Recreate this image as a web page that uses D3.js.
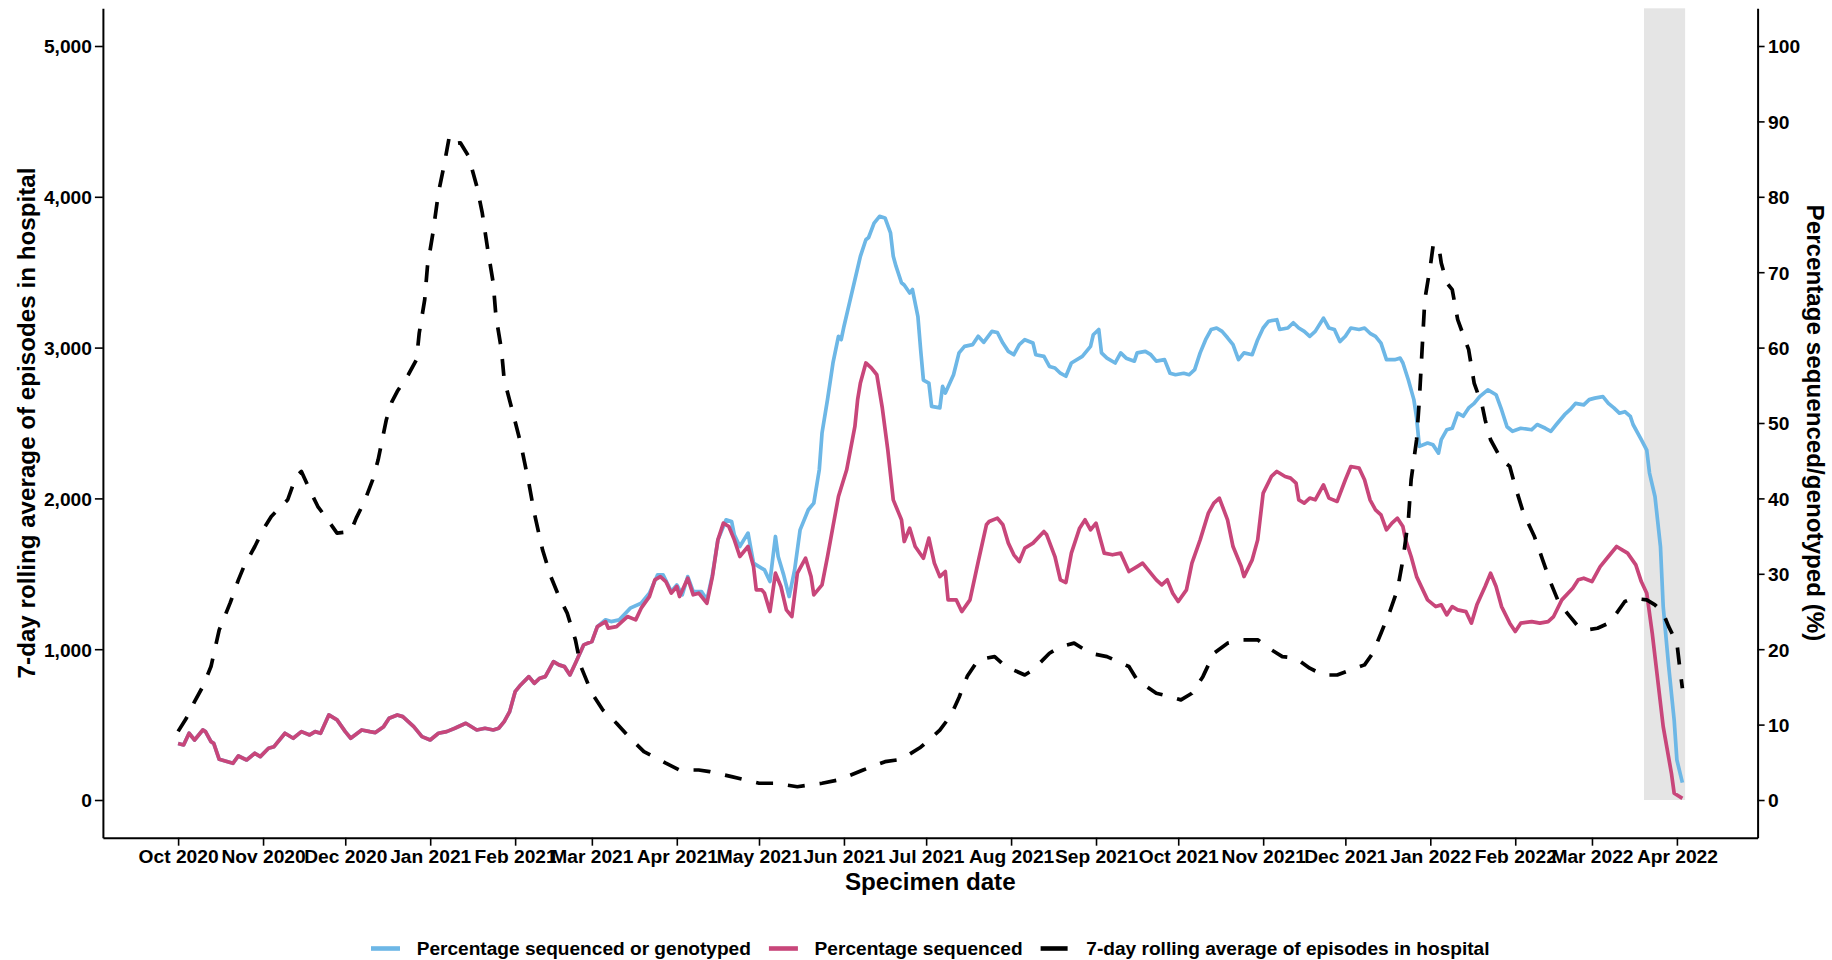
<!DOCTYPE html>
<html>
<head>
<meta charset="utf-8">
<script src="https://cdn.jsdelivr.net/npm/d3@7"></script>
<style>
  body { margin: 0; background: #ffffff; }
  svg { display: block; font-family: "Liberation Sans", Arial, sans-serif; font-weight: bold; }
</style>
</head>
<body>
<svg id="chart" width="1832" height="960"></svg>
<script>
// ---------------- DATA ----------------
const startDate = "2020-10-01";           // day 0 of every "days" array
const endDate = "2022-04-03";             // last specimen date shown

// 7-day rolling average of episodes in hospital (left axis)
const hospitalDays = [0,3,6,9,12,15,19,22,24,28,31,34,40,43,45,48,51,55,58,63,65,68,71,73,76,78,80,84,87,88,90,91,93,95,97,99,101,103,106,109,111,113,115,116,118,119,122,125,128,130,133,136,139,142,145,147,151,155,160,165,170,178,183,190,194,202,212,218,226,235,241,250,258,264,271,274,278,282,285,288,292,298,302,309,312,318,322,327,333,339,347,350,357,362,366,370,374,378,383,388,394,398,403,408,413,418,423,428,433,436,439,442,445,447,449,450,452,453,454,455,457,458,460,461,463,465,467,471,473,476,477,479,483,486,488,491,495,498,501,504,508,511,514,518,522,525,528,531,536,539,542,544,547,548,549];
const hospitalValues = [455,542,652,752,885,1128,1307,1460,1548,1681,1792,1880,1991,2145,2179,2057,1946,1847,1770,1781,1869,1980,2123,2256,2522,2640,2710,2820,2920,3097,3318,3539,3760,4026,4202,4401,4353,4358,4269,4070,3893,3650,3429,3207,2986,2787,2580,2367,2102,1902,1659,1482,1349,1239,1062,885,708,597,509,409,321,244,199,199,188,155,111,111,88,111,133,199,254,270,350,398,464,560,680,820,930,951,885,829,863,973,1017,1040,973,951,885,796,708,685,664,708,818,973,1040,1062,1062,1007,951,940,874,829,829,863,896,973,1106,1239,1393,1593,1858,2123,2389,2654,2986,3318,3539,3672,3683,3561,3429,3384,3185,2986,2765,2610,2522,2389,2256,2212,2079,1902,1747,1593,1438,1305,1216,1150,1128,1139,1172,1239,1316,1338,1327,1294,1239,1150,1040,885,741];

// Percentage sequenced (right axis, %)
const seqDays = [0,2,4,6,9,10,12,13,15,20,22,25,28,30,33,35,39,42,45,48,50,52,55,58,61,63,67,70,72,75,77,80,82,86,89,92,95,98,101,105,109,112,115,117,119,121,123,125,128,130,132,134,137,139,141,143,145,148,151,153,156,157,160,162,164,167,169,172,174,176,178,180,182,183,186,188,190,193,195,197,199,201,203,205,208,210,211,213,214,216,218,220,222,224,226,229,231,232,235,237,239,241,244,247,248,249,251,253,255,257,259,261,263,264,265,267,269,272,274,276,278,280,281,284,286,289,292,295,296,299,301,303,305,307,309,312,316,317,320,322,324,326,329,331,333,335,338,341,344,347,350,352,354,357,359,361,363,365,368,370,373,376,378,380,383,385,388,389,392,394,396,399,401,404,406,408,409,411,413,415,418,420,423,426,428,431,433,435,437,439,441,443,445,447,448,450,452,456,459,461,463,465,467,470,472,474,477,479,481,483,486,488,490,494,497,500,502,505,509,511,513,516,519,522,525,527,529,532,534,536,538,540,542,545,546,549];
const seqValues = [7.5,7.3,8.85,7.96,9.29,9.07,7.74,7.52,5.4,4.87,5.84,5.31,6.2,5.75,6.86,7.07,8.85,8.19,9.07,8.63,9.07,8.85,11.28,10.62,9.07,8.19,9.29,9.07,8.94,9.73,10.84,11.28,11.06,9.73,8.41,7.96,8.85,9.07,9.51,10.18,9.29,9.51,9.29,9.51,10.39,11.72,14.37,15.26,16.36,15.48,16.15,16.36,18.35,17.92,17.69,16.59,18.14,20.57,21.01,23.0,23.66,22.79,23.0,23.66,24.33,23.89,25.44,26.98,29.2,29.63,28.97,27.43,28.31,26.98,29.42,27.21,27.43,26.1,29.63,34.5,36.72,36.27,34.5,32.29,33.62,30.96,27.87,27.87,27.43,24.99,30.08,28.31,25.22,24.33,30.08,32.07,29.63,27.21,28.53,32.29,36.27,40.25,43.8,49.54,53.1,55.3,57.96,57.3,56.4,52.0,46.45,39.8,38.05,37.16,34.28,36.05,33.62,32.07,34.73,31.41,29.63,30.3,26.54,26.54,24.99,26.54,31.6,36.5,36.94,37.38,36.5,34.07,32.52,31.63,33.4,34.07,35.6,35.17,32.29,29.2,28.84,32.74,36.05,37.16,35.83,36.72,32.74,32.52,32.74,30.3,30.96,31.41,30.52,29.2,28.53,29.2,27.43,26.32,27.87,31.41,34.5,38.05,39.38,40.04,37.16,33.62,30.96,29.63,31.85,34.5,40.7,42.91,43.57,42.91,42.69,42.03,39.81,39.38,40.04,39.81,41.8,40.04,39.6,42.47,44.23,44.02,42.47,39.81,38.49,37.82,35.83,36.72,37.38,36.27,34.5,32.29,29.63,26.54,25.65,25.88,24.55,25.65,25.22,24.99,23.45,25.88,28.31,30.08,28.31,25.65,23.45,22.34,23.45,23.66,23.45,23.66,24.33,26.54,28.09,29.2,29.42,28.97,30.96,32.29,33.62,33.18,32.74,31.19,28.97,27.43,22.12,15.93,9.73,3.54,0.89,0.22];

// Percentage sequenced or genotyped (right axis, %); identical to "sequenced" until March 2021
const seqGenoDays = [0,2,4,6,9,10,12,13,15,20,22,25,28,30,33,35,39,42,45,48,50,52,55,58,61,63,67,70,72,75,77,80,82,86,89,92,95,98,101,105,109,112,115,117,119,121,123,125,128,130,132,134,137,139,141,143,145,148,151,153,156,158,161,165,169,172,175,177,180,182,184,186,188,191,193,195,197,200,202,203,205,208,210,212,214,216,218,219,221,223,225,227,230,232,234,235,237,239,241,242,243,245,247,249,251,252,254,256,258,260,261,262,264,265,267,268,270,271,272,274,275,278,279,280,283,285,287,290,292,294,297,299,301,303,305,307,309,312,313,316,318,320,322,324,326,330,333,334,336,337,339,342,344,346,349,350,353,355,357,360,362,364,367,369,371,373,375,377,379,381,383,385,387,389,392,394,396,398,401,402,405,407,409,411,413,415,418,420,422,424,426,428,431,433,435,437,439,441,444,446,447,449,451,452,453,456,458,460,461,463,465,467,469,471,473,475,478,481,483,485,487,490,494,496,499,501,503,506,508,510,513,515,517,520,522,524,526,528,530,531,534,536,537,539,541,542,544,546,547,549];
const seqGenoValues = [7.5,7.3,8.85,7.96,9.29,9.07,7.74,7.52,5.4,4.87,5.84,5.31,6.2,5.75,6.86,7.07,8.85,8.19,9.07,8.63,9.07,8.85,11.28,10.62,9.07,8.19,9.29,9.07,8.94,9.73,10.84,11.28,11.06,9.73,8.41,7.96,8.85,9.07,9.51,10.18,9.29,9.51,9.29,9.51,10.39,11.72,14.37,15.26,16.36,15.48,16.15,16.36,18.35,17.92,17.69,16.59,18.14,20.57,21.01,23.0,23.9,23.66,23.89,25.44,26.1,27.43,29.86,29.86,27.65,28.53,27.21,29.63,27.65,27.65,26.54,29.86,34.5,37.16,36.94,35.17,33.62,35.4,31.41,30.96,30.52,28.97,34.95,32.29,29.86,26.98,30.52,35.83,38.49,39.38,43.8,48.67,53.1,57.96,61.5,61.05,62.8,65.9,69.0,72.1,74.3,74.6,76.5,77.4,77.2,75.2,72.1,70.8,68.6,68.3,67.25,67.7,64.1,59.7,55.7,55.3,52.2,52.0,54.85,53.97,56.4,59.3,60.16,60.4,61.5,60.7,62.15,62.0,60.6,59.5,59.06,60.4,61.05,60.6,59.06,58.83,57.5,57.3,56.6,56.2,57.96,58.83,60.16,61.7,62.4,59.3,58.6,57.96,59.3,58.6,58.2,59.3,59.5,59.06,58.2,58.4,56.6,56.4,56.6,56.4,57.07,59.3,61.05,62.4,62.6,62.15,61.3,60.4,58.4,59.3,59.06,61.05,62.6,63.5,63.7,62.4,62.6,63.3,62.6,62.15,61.5,62.15,63.9,62.6,62.4,60.8,61.5,62.6,62.4,62.6,61.9,61.5,60.6,58.4,58.4,58.6,57.96,55.7,53.1,50.65,46.9,47.34,47.1,46.0,47.8,49.1,49.3,51.3,50.9,52.0,52.6,53.5,54.4,53.75,51.76,49.5,48.9,49.3,49.1,49.8,49.3,48.9,49.8,51.1,51.76,52.6,52.4,53.1,53.3,53.5,52.6,52.0,51.3,51.5,50.87,49.8,47.8,46.4,43.36,40.25,33.6,25.65,17.7,10.6,5.3,2.3];

// Shaded period (incomplete data)
const shadeStart = "2022-03-20";
const shadeEnd = "2022-04-04";

// Axis ticks
const leftTicks = [0, 1000, 2000, 3000, 4000, 5000];
const rightTicks = [0, 10, 20, 30, 40, 50, 60, 70, 80, 90, 100];
const monthTicks = ["2020-10-01","2020-11-01","2020-12-01","2021-01-01","2021-02-01","2021-03-01","2021-04-01","2021-05-01","2021-06-01","2021-07-01","2021-08-01","2021-09-01","2021-10-01","2021-11-01","2021-12-01","2022-01-01","2022-02-01","2022-03-01","2022-04-01"];

// Labels
const leftTitle = "7-day rolling average of episodes in hospital";
const rightTitle = "Percentage sequenced/genotyped (%)";
const xTitle = "Specimen date";
const legendLabels = ["Percentage sequenced or genotyped", "Percentage sequenced", "7-day rolling average of episodes in hospital"];

// ---------------- DRAWING ----------------
const colBlue = "#6db7e6", colPink = "#c8467a", colBlack = "#000000";
const parse = d3.utcParse("%Y-%m-%d");
const t0 = parse(startDate), tEnd = parse(endDate);
const toDate = d => d3.utcDay.offset(t0, d);

const svg = d3.select("#chart");
const panel = { left: 102.9, right: 1757.6, top: 8.3, bottom: 837.7 };

const pad = (tEnd - t0) * 0.05;
const x = d3.scaleUtc().domain([new Date(+t0 - pad), new Date(+tEnd + pad)]).range([panel.left, panel.right]);
const y = d3.scaleLinear().domain([-250, 5250]).range([panel.bottom, panel.top]);
const yR = d3.scaleLinear().domain([-5, 105]).range([panel.bottom, panel.top]);

// shaded rectangle
svg.append("rect")
  .attr("x", x(parse(shadeStart)))
  .attr("width", x(parse(shadeEnd)) - x(parse(shadeStart)))
  .attr("y", panel.top)
  .attr("height", y(0) - panel.top)
  .attr("fill", "#e5e5e5");

const series = (days, vals) => days.map((d, i) => ({ date: toDate(d), v: vals[i] }));
const lineR = d3.line().x(d => x(d.date)).y(d => yR(d.v));
const lineL = d3.line().x(d => x(d.date)).y(d => y(d.v));
const lw = 3.7;

svg.append("path").datum(series(seqGenoDays, seqGenoValues))
  .attr("d", lineR).attr("fill", "none").attr("stroke", colBlue)
  .attr("stroke-width", lw).attr("stroke-linejoin", "round");
svg.append("path").datum(series(seqDays, seqValues))
  .attr("d", lineR).attr("fill", "none").attr("stroke", colPink)
  .attr("stroke-width", lw).attr("stroke-linejoin", "round");
svg.append("path").datum(series(hospitalDays, hospitalValues))
  .attr("d", lineL).attr("fill", "none").attr("stroke", colBlack)
  .attr("stroke-width", lw).attr("stroke-dasharray", "17,15").attr("stroke-linejoin", "round");

// axes
const tickFont = 19.2;
const styleAxis = g => {
  g.select(".domain").attr("stroke", "#000").attr("stroke-width", 2);
  g.selectAll(".tick line").attr("stroke", "#000").attr("stroke-width", 1.6);
  g.selectAll(".tick text").attr("fill", "#000").style("font-size", tickFont + "px")
    .style("font-family", '"Liberation Sans", Arial, sans-serif').style("font-weight", "bold");
};

svg.append("g").attr("transform", `translate(${panel.left},0)`)
  .call(d3.axisLeft(y).tickValues(leftTicks).tickFormat(d3.format(",")).tickSize(8).tickSizeOuter(0).tickPadding(3))
  .call(styleAxis)
  .call(g => g.selectAll(".tick text").attr("dy", "0.36em"));

svg.append("g").attr("transform", `translate(${panel.right},0)`)
  .call(d3.axisRight(yR).tickValues(rightTicks).tickSize(7).tickSizeOuter(0).tickPadding(3.5))
  .call(styleAxis)
  .call(g => g.selectAll(".tick text").attr("dy", "0.36em"));

svg.append("g").attr("transform", `translate(0,${panel.bottom})`)
  .call(d3.axisBottom(x).tickValues(monthTicks.map(parse)).tickFormat(d3.utcFormat("%b %Y")).tickSize(8).tickSizeOuter(0).tickPadding(3.6))
  .call(styleAxis);

// titles
const titleFont = 24.2;
const cy = (panel.top + panel.bottom) / 2;
svg.append("text").text(xTitle)
  .attr("x", (panel.left + panel.right) / 2).attr("y", 890)
  .attr("text-anchor", "middle").style("font-size", titleFont + "px").attr("fill", "#000");
svg.append("text").text(leftTitle)
  .attr("transform", `translate(34.5,${cy}) rotate(-90)`)
  .attr("text-anchor", "middle").style("font-size", titleFont + "px").attr("fill", "#000");
svg.append("text").text(rightTitle)
  .attr("transform", `translate(1807,${cy}) rotate(90)`)
  .attr("text-anchor", "middle").style("font-size", titleFont + "px").attr("fill", "#000");

// legend
const legendFont = 19.1, keyW = 29, keyGap = 16.7, itemGap = 18, legendY = 948.5;
const legendItems = [
  { label: legendLabels[0], color: colBlue, dash: null },
  { label: legendLabels[1], color: colPink, dash: null },
  { label: legendLabels[2], color: colBlack, dash: "27,100" }
];
const lg = svg.append("g");
const widths = legendItems.map(it => {
  const t = lg.append("text").text(it.label).style("font-size", legendFont + "px");
  const w = t.node().getComputedTextLength(); t.remove(); return w;
});
const total = d3.sum(widths) + legendItems.length * (keyW + keyGap) + (legendItems.length - 1) * itemGap;
let cx = (panel.left + panel.right) / 2 - total / 2;
legendItems.forEach((it, i) => {
  lg.append("line").attr("x1", cx).attr("x2", cx + keyW).attr("y1", legendY).attr("y2", legendY)
    .attr("stroke", it.color).attr("stroke-width", 4.6).attr("stroke-dasharray", it.dash);
  lg.append("text").text(it.label).attr("x", cx + keyW + keyGap).attr("y", legendY)
    .attr("dy", "0.36em").style("font-size", legendFont + "px").attr("fill", "#000");
  cx += keyW + keyGap + widths[i] + itemGap;
});
</script>
</body>
</html>
